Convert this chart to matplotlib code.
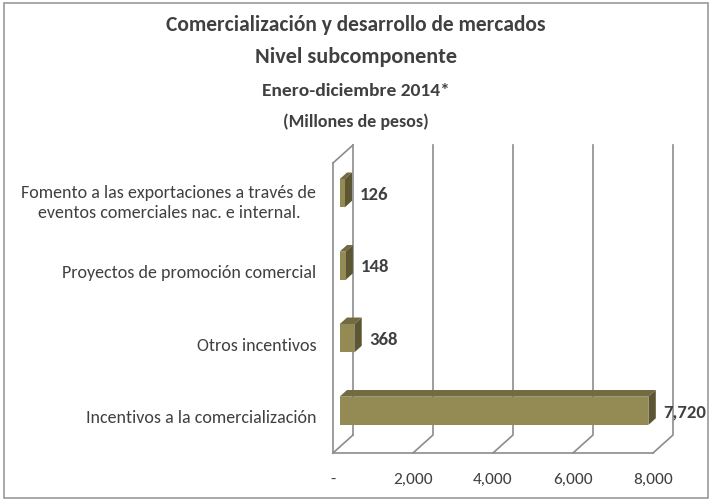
import matplotlib
matplotlib.use('Agg')
from matplotlib import pyplot as plt
from matplotlib.patches import Polygon, Rectangle

# datos
categorias = ['Incentivos a la comercialización',
              'Otros incentivos',
              'Proyectos de promoción comercial',
              'Fomento a las exportaciones a través de\neventos comerciales nac. e internal.']
valores = [7720, 368, 148, 126]
etiquetas = ['7,720', '368', '148', '126']
xticks = [0, 2000, 4000, 6000, 8000]
xtick_labels = ['-', '2,000', '4,000', '6,000', '8,000']

plt.rcParams['font.family'] = ['Carlito', 'DejaVu Sans']

gris = '#404040'
linea = '#8c8c8c'
frente = '#948a54'
arriba = '#726a40'
lado = '#5c5634'

fig = plt.figure(figsize=(7.12, 5.01), dpi=100)
fig.patches.append(Rectangle((0.006, 0.006), 0.988, 0.988, transform=fig.transFigure,
                             fill=False, ec='#9a9a9a', lw=1.2))

ax = fig.add_axes([333 / 712, 48 / 501, 320 / 712, 290 / 501])
ax.set_xlim(0, 8000)
ax.set_ylim(-0.5, 3.5)
for s in ax.spines.values():
    s.set_visible(False)

# profundidad 3D en pixeles
DX, DY = 20, 18
pos = ax.get_position()
sx = 8000 / (pos.width * fig.get_figwidth() * fig.dpi)
sy = 4 / (pos.height * fig.get_figheight() * fig.dpi)


def prof(x, y, d):
    return x + d * DX * sx, y + d * DY * sy


# paredes
kw = dict(color=linea, lw=1.2, clip_on=False, zorder=1)
y0, y1 = -0.5, 3.5
for a, b in [((0, y0), (0, y1)),
             (prof(0, y0, 1), prof(0, y1, 1)),
             ((0, y1), prof(0, y1, 1)),
             ((0, y0), prof(0, y0, 1)),
             ((0, y0), (8000, y0))]:
    ax.plot([a[0], b[0]], [a[1], b[1]], **kw)
for t in xticks[1:]:
    a, b, c = (t, y0), prof(t, y0, 1), prof(t, y1, 1)
    ax.plot([a[0], b[0], c[0]], [a[1], b[1], c[1]], **kw)

# barras
h = 0.39
d0, d1 = 0.33, 0.7
for i, v in enumerate(valores):
    bx, by = prof(0, i - h / 2, d0)
    ax.barh(by + h / 2, v, height=h, left=bx, color=frente, zorder=3, clip_on=False)
    top = [prof(0, i + h / 2, d0), prof(v, i + h / 2, d0),
           prof(v, i + h / 2, d1), prof(0, i + h / 2, d1)]
    side = [prof(v, i - h / 2, d0), prof(v, i + h / 2, d0),
            prof(v, i + h / 2, d1), prof(v, i - h / 2, d1)]
    ax.add_patch(Polygon(top, closed=True, fc=arriba, ec='none', zorder=2, clip_on=False))
    ax.add_patch(Polygon(side, closed=True, fc=lado, ec='none', zorder=2, clip_on=False))
    lx, ly = prof(v, i, d0)
    ax.annotate(etiquetas[i], (lx, ly), xytext=(11, -1), textcoords='offset points',
                ha='left', va='center', fontsize=13.5, fontweight='bold', color=gris)

ax.set_yticks(range(len(categorias)))
ax.set_yticklabels(categorias, fontsize=13, color=gris, ha='right',
                   multialignment='center', linespacing=1.3)
for lab in ax.get_yticklabels():
    lab.set_y(lab.get_position()[1])
ax.set_xticks(xticks)
ax.set_xticklabels(xtick_labels, fontsize=12.5, color=gris)
ax.tick_params(axis='y', length=0, pad=12)
ax.tick_params(axis='x', length=0, pad=14)

fig.text(0.5, 1 - 25 / 501, 'Comercialización y desarrollo de mercados', ha='center', va='center',
         fontsize=15.5, fontweight='bold', color=gris)
fig.text(0.5, 1 - 57 / 501, 'Nivel subcomponente', ha='center', va='center',
         fontsize=16, fontweight='bold', color=gris)
fig.text(0.5, 1 - 91 / 501, 'Enero-diciembre 2014*', ha='center', va='center',
         fontsize=14, fontweight='bold', color=gris)
fig.text(0.5, 1 - 122 / 501, '(Millones de pesos)', ha='center', va='center',
         fontsize=13, fontweight='bold', color=gris)

plt.savefig('out.png', dpi=100)
